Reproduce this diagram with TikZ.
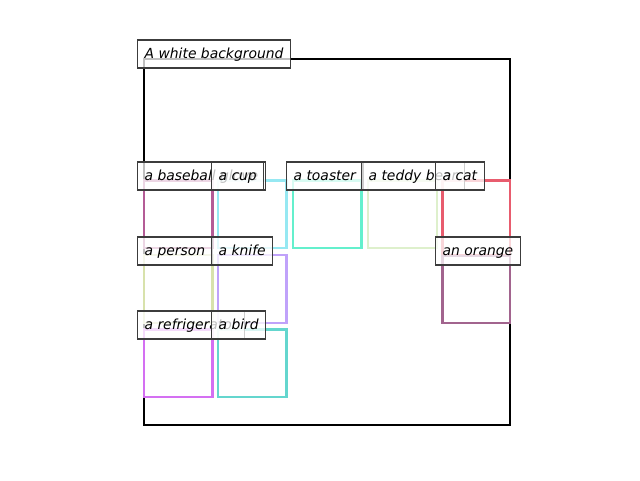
\documentclass[tikz,border=0pt]{standalone}
\usepackage{fontspec}
\newfontfamily\tagfont{DejaVu Sans}
\definecolor{glovecol}{RGB}{180,92,150}
\definecolor{cupcol}{RGB}{150,232,242}
\definecolor{toastercol}{RGB}{100,240,205}
\definecolor{teddycol}{RGB}{222,240,204}
\definecolor{catcol}{RGB}{232,92,110}
\definecolor{personcol}{RGB}{216,226,172}
\definecolor{knifecol}{RGB}{192,162,250}
\definecolor{orangecol}{RGB}{162,100,142}
\definecolor{fridgecol}{RGB}{212,112,242}
\definecolor{birdcol}{RGB}{100,214,206}
\definecolor{tagedge}{RGB}{60,60,60}
\tikzset{
  objbox/.style={line width=2.3pt},
  tag/.style={draw=tagedge, line width=1.2pt, fill=white, fill opacity=0.75, text opacity=1,
    anchor=west, inner xsep=7pt, inner ysep=7pt, text height=11pt, text depth=3pt,
    font=\tagfont\itshape\fontsize{13.9}{16}\selectfont}
}
\begin{document}
\begin{tikzpicture}[x=1pt, y=-1pt]
\useasboundingbox (0,0) rectangle (640,480);
% frame
\draw[line width=2.3pt] (144,59) rectangle (510,425);

% object boxes
\draw[objbox, glovecol] (144,180.5) rectangle (212.5,248);
\draw[objbox, cupcol] (218,180.5) rectangle (286.5,248);
\draw[objbox, toastercol] (293,180.5) rectangle (361.5,248);
\draw[objbox, teddycol] (368,180.5) rectangle (437,248);
\draw[objbox, catcol] (442.5,180.5) rectangle (510,255);
\draw[objbox, personcol] (144,255) rectangle (212.5,323);
\draw[objbox, knifecol] (218,255) rectangle (286.5,323);
\draw[objbox, orangecol] (442.5,256) rectangle (510,323);
\draw[objbox, fridgecol] (144,329.5) rectangle (212.5,397);
\draw[objbox, birdcol] (218,329.5) rectangle (286.5,397);

% labels
\node[tag] (bgtag) at (137,54) {A white background};
\node[tag] (glovetag) at (137,176) {a baseball glove};
\node[tag] (cuptag) at (211,176) {a cup};
\node[tag] (toastertag) at (286,176) {a toaster};
\node[tag] (teddytag) at (361,176) {a teddy bear};
\node[tag] (cattag) at (435,176) {a cat};
\node[tag] (persontag) at (137,251) {a person};
\node[tag] (knifetag) at (211,251) {a knife};
\node[tag] (orangetag) at (435,251) {an orange};
\node[tag] (fridgetag) at (137,325) {a refrigerator};
\node[tag] (birdtag) at (211,325) {a bird};
\end{tikzpicture}
\end{document}
